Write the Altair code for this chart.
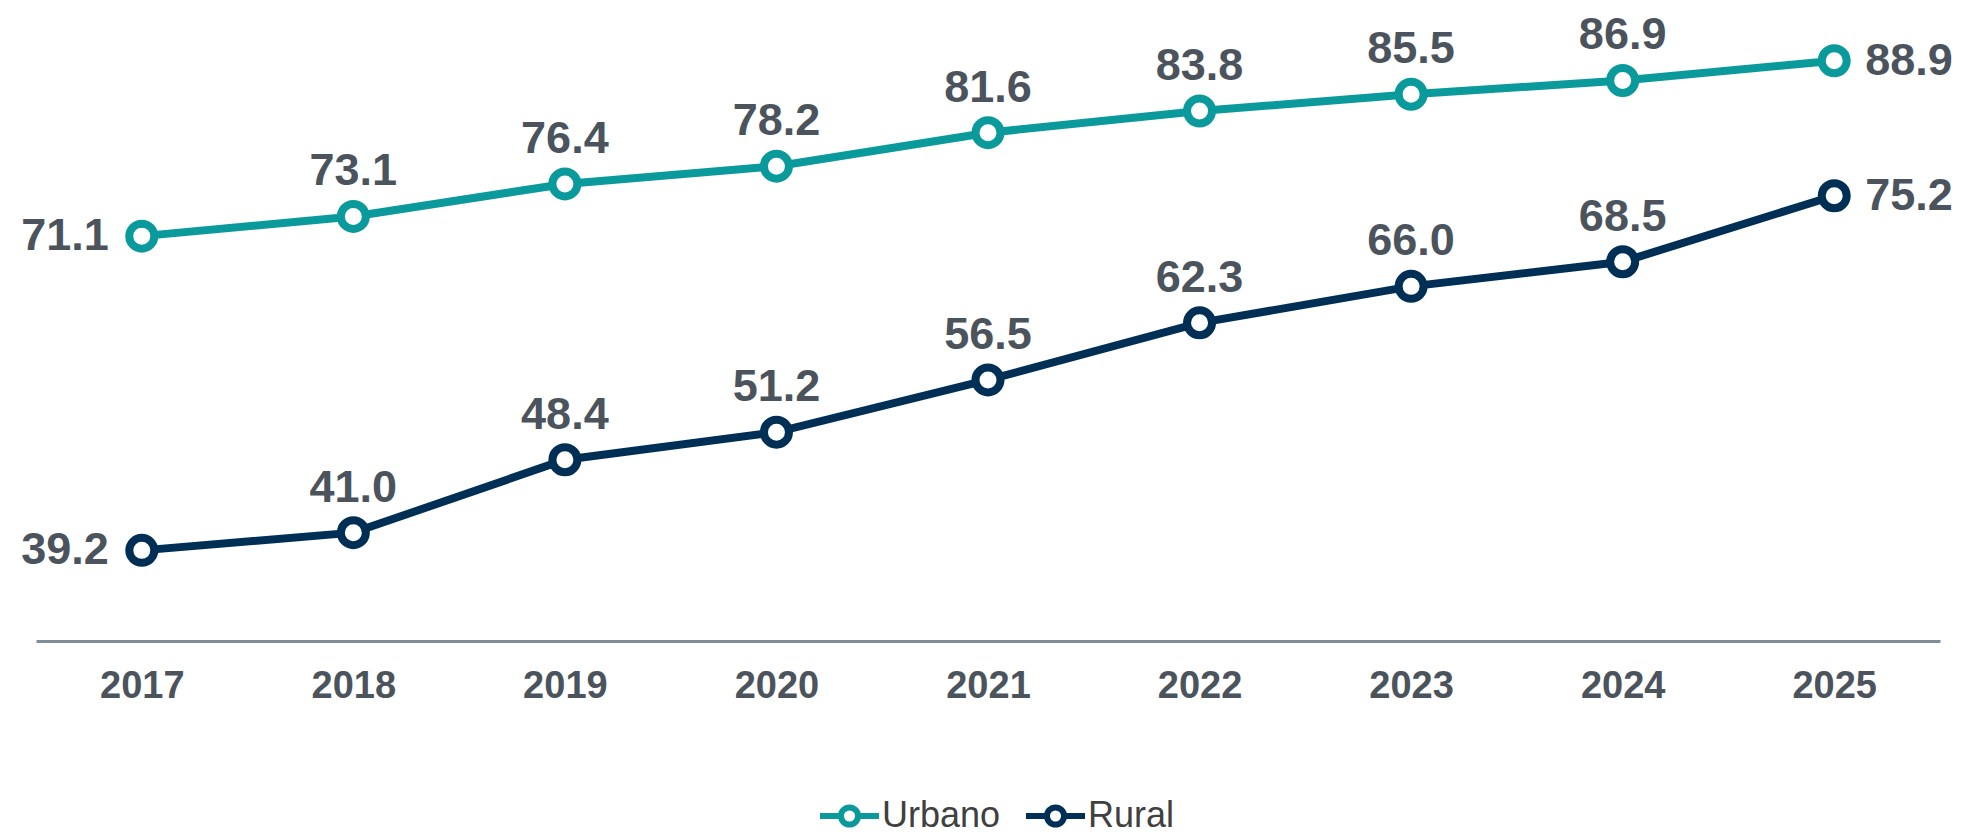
import altair as alt
import pandas as pd

years = ["2017", "2018", "2019", "2020", "2021", "2022", "2023", "2024", "2025"]
urbano = [71.1, 73.1, 76.4, 78.2, 81.6, 83.8, 85.5, 86.9, 88.9]
rural = [39.2, 41.0, 48.4, 51.2, 56.5, 62.3, 66.0, 68.5, 75.2]
series = ["Urbano", "Rural"]
colors = ["#0b9a9c", "#002f56"]

rows = []
for s, vals in zip(series, [urbano, rural]):
    for y, v in zip(years, vals):
        rows.append({"year": y, "serie": s, "value": v})
df = pd.DataFrame(rows)

FONT = "Liberation Sans"
TXT = "#4b535d"

x_enc = alt.X(
    "year:O",
    sort=years,
    scale=alt.Scale(type="point", padding=0.5),
    axis=alt.Axis(
        title=None,
        labelAngle=0,
        ticks=False,
        grid=False,
        domainColor="#7f8e9b",
        domainWidth=3,
        labelFont=FONT,
        labelFontSize=38,
        labelFontWeight="bold",
        labelColor=TXT,
        labelPadding=26,
    ),
)
y_enc = alt.Y("value:Q", scale=alt.Scale(domain=[30, 93.65], nice=False, zero=False), axis=None)

legend_path = (
    "M-1,0L-0.29,0M0.29,0L1,0"
    "M-0.29,0A0.29,0.29,0,1,1,0.29,0A0.29,0.29,0,1,1,-0.29,0Z"
)

color_enc = alt.Color(
    "serie:N",
    sort=series,
    scale=alt.Scale(domain=series, range=colors),
    legend=alt.Legend(
        title=None,
        orient="none",
        direction="horizontal",
        legendX=781,
        legendY=769,
        symbolType=legend_path,
        symbolSize=3481,
        symbolStrokeWidth=6,
        symbolFillColor="white",
        labelFont=FONT,
        labelFontSize=36,
        labelColor="#404040",
        labelOffset=0,
        columnPadding=13,
    ),
)

base = alt.Chart(df).encode(x=x_enc, y=y_enc)

line = base.mark_line(strokeWidth=8).encode(color=color_enc)
points = base.mark_point(
    shape="circle", size=625, strokeWidth=8, fill="white", fillOpacity=1, opacity=1, filled=False
).encode(color=alt.Color("serie:N", sort=series, scale=alt.Scale(domain=series, range=colors), legend=None))

mid = base.transform_filter(
    alt.FieldOneOfPredicate(field="year", oneOf=years[1:-1])
).mark_text(
    font=FONT, fontSize=45, fontWeight="bold", color=TXT, align="center", baseline="alphabetic", dy=-31
).encode(text=alt.Text("value:Q", format=".1f"))

first = base.transform_filter(
    alt.FieldEqualPredicate(field="year", equal=years[0])
).mark_text(
    font=FONT, fontSize=45, fontWeight="bold", color=TXT, align="right", baseline="middle", dx=-33
).encode(text=alt.Text("value:Q", format=".1f"))

last = base.transform_filter(
    alt.FieldEqualPredicate(field="year", equal=years[-1])
).mark_text(
    font=FONT, fontSize=45, fontWeight="bold", color=TXT, align="left", baseline="middle", dx=31
).encode(text=alt.Text("value:Q", format=".1f"))

chart = (
    alt.layer(line, points, mid, first, last)
    .properties(
        width=1904,
        height=627,
        autosize=alt.AutoSizeParams(type="none"),
        padding={"left": 28, "top": 6, "right": 26, "bottom": 194},
        background="white",
    )
    .configure_view(stroke=None)
)

chart.save("out.html", embed_options={"renderer": "svg", "actions": False})
